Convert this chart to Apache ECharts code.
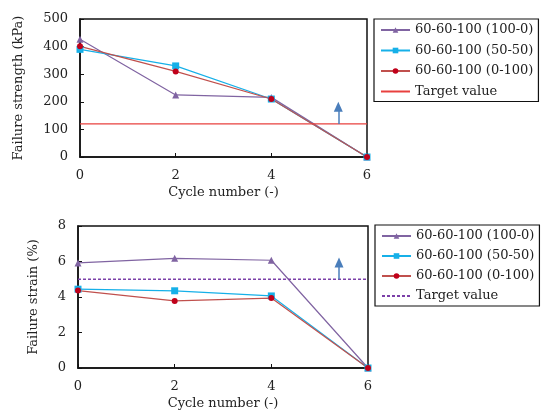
<!DOCTYPE html>
<html>
<head>
<meta charset="utf-8">
<script src="https://cdn.jsdelivr.net/npm/echarts@6/dist/echarts.min.js"></script>
<style>
  html, body { margin: 0; padding: 0; background: #fff; }
  #chart { width: 547px; height: 414px; }
</style>
</head>
<body>
<div id="chart"></div>
<script>
// 循环次数
var cycles = [0, 2, 4, 6];
// 破坏强度 (kPa)
var strength100_0 = [427, 225, 216, 0];
var strength50_50 = [390, 330, 210, 0];
var strength0_100 = [401, 310, 210, 0];
var strengthTarget = 120;
var strengthArrow = [120, 182];
// 破坏应变 (%)
var strain100_0 = [5.92, 6.18, 6.07, 0];
var strain50_50 = [4.44, 4.35, 4.06, 0];
var strain0_100 = [4.36, 3.78, 3.94, 0];
var strainTarget = 5;
var strainArrow = [5, 5.95];
var arrowX = 5.4;
var xRange = [0, 6];

var names = ['60-60-100 (100-0)', '60-60-100 (50-50)', '60-60-100 (0-100)', 'Target value'];
// 下图的目标值系列单独命名（图例里去掉尾部空格）
var strainTargetName = 'Target value ';
var font = 'DejaVu Serif';

function pairs(ys) {
    return cycles.map(function (x, i) { return [x, ys[i]]; });
}

function dataSeries(name, ys, idx, color, lineColor, symbol, size) {
    return {
        name: name, type: 'line', xAxisIndex: idx, yAxisIndex: idx,
        data: pairs(ys), symbol: symbol, symbolSize: size,
        itemStyle: { color: color },
        lineStyle: { color: lineColor, width: 1.2 },
        animation: false
    };
}

function targetSeries(name, idx, value, arrow, color, type) {
    return {
        name: name, type: 'line', xAxisIndex: idx, yAxisIndex: idx,
        data: [[xRange[0], value], [xRange[1], value]],
        symbol: 'none', itemStyle: { color: color },
        lineStyle: { color: color, width: 1.3, type: type },
        markLine: {
            silent: true, animation: false,
            symbol: ['none', 'triangle'], symbolSize: [9, 10],
            label: { show: false },
            lineStyle: { color: '#4a7ebb', width: 1.5, type: 'solid' },
            data: [[{ coord: [arrowX, arrow[0]] }, { coord: [arrowX, arrow[1]] }]]
        },
        animation: false
    };
}

function xAxis(idx) {
    return {
        type: 'value', gridIndex: idx, min: xRange[0], max: xRange[1], interval: 2,
        name: 'Cycle number (-)', nameLocation: 'middle', nameGap: 29,
        nameTextStyle: { fontFamily: font, fontSize: 13, color: '#222' },
        axisLine: { lineStyle: { color: '#111', width: 1.5 } },
        axisTick: { inside: true, length: 4, lineStyle: { color: '#111' } },
        axisLabel: { fontFamily: font, fontSize: 13, color: '#222', margin: 12 },
        splitLine: { show: false }
    };
}

function yAxis(idx, name, max, interval, gap) {
    return {
        type: 'value', gridIndex: idx, min: 0, max: max, interval: interval,
        name: name, nameLocation: 'middle', nameGap: gap, nameRotate: 90,
        nameTextStyle: { fontFamily: font, fontSize: 13, color: '#222' },
        axisLine: { show: true, lineStyle: { color: '#111', width: 1.5 } },
        axisTick: { show: true, inside: true, length: 4, lineStyle: { color: '#111' } },
        axisLabel: { fontFamily: font, fontSize: 13, color: '#222', margin: 12 },
        splitLine: { show: false }
    };
}

function legend(left, top, gap, targetName) {
    return {
        orient: 'vertical', left: left, top: top,
        data: [names[0], names[1], names[2],
               { name: targetName, itemStyle: { opacity: 0 } }],
        formatter: function (n) { return n.trim(); },
        borderColor: '#111', borderWidth: 1.2,
        padding: [4, 5, 3, 6], itemGap: gap, itemWidth: 29, itemHeight: 7,
        textStyle: { fontFamily: font, fontSize: 13, color: '#222', lineHeight: 14 }
    };
}

var myChart = echarts.init(document.getElementById('chart'));

var option = {
    backgroundColor: '#fff',
    grid: [
        { left: 80, right: 180, top: 19, bottom: 257, show: true, borderColor: '#111', borderWidth: 1.5 },
        { left: 78, right: 179, top: 226, bottom: 46, show: true, borderColor: '#111', borderWidth: 1.5 }
    ],
    xAxis: [xAxis(0), xAxis(1)],
    yAxis: [
        yAxis(0, 'Failure strength (kPa)', 500, 100, 55),
        yAxis(1, 'Failure strain (%)', 8, 2, 38)
    ],
    legend: [
        legend(374, 19, 6.5, names[3]),
        legend(375, 225, 6, strainTargetName)
    ],
    series: [
        dataSeries(names[0], strength100_0, 0, '#8064a2', '#8064a2', 'triangle', 7),
        dataSeries(names[1], strength50_50, 0, '#16b0e8', '#16b0e8', 'rect', 7),
        dataSeries(names[2], strength0_100, 0, '#c0001a', '#c0504d', 'circle', 6),
        targetSeries(names[3], 0, strengthTarget, strengthArrow, '#e8403e', 'solid'),
        dataSeries(names[0], strain100_0, 1, '#8064a2', '#8064a2', 'triangle', 7),
        dataSeries(names[1], strain50_50, 1, '#16b0e8', '#16b0e8', 'rect', 7),
        dataSeries(names[2], strain0_100, 1, '#c0001a', '#c0504d', 'circle', 6),
        targetSeries(strainTargetName, 1, strainTarget, strainArrow, '#7b3fa8', [3, 2])
    ]
};

myChart.setOption(option);
</script>
</body>
</html>
